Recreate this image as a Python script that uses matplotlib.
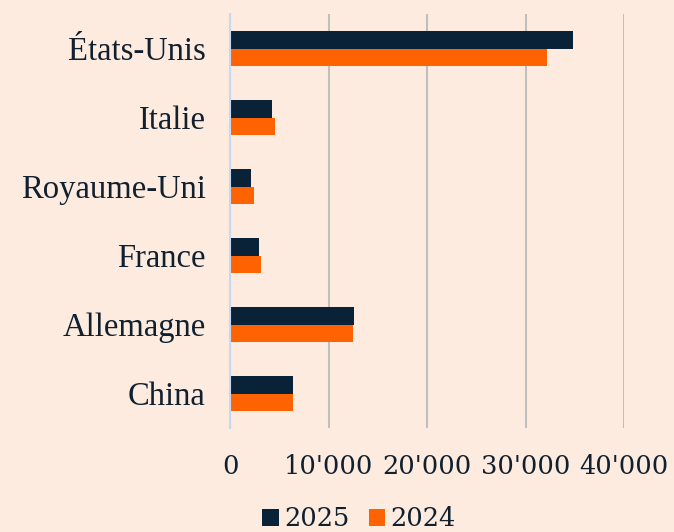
import matplotlib
matplotlib.use("Agg")
import matplotlib.pyplot as plt
import numpy as np
from matplotlib.ticker import FuncFormatter

categories = ["États-Unis", "Italie", "Royaume-Uni", "France", "Allemagne", "China"]
values_2025 = [34800, 4260, 2130, 2940, 12590, 6400]
values_2024 = [32200, 4570, 2440, 3150, 12490, 6400]
xticks = [0, 10000, 20000, 30000, 40000]

bg = "#FDEBDF"
navy = "#0A2238"
orange = "#FF6200"

fig = plt.figure(figsize=(6.74, 5.32), dpi=100, facecolor=bg)
ax = fig.add_axes([230/674, 1-428/532, (624-230)/674, (428-14)/532])
ax.set_facecolor(bg)

y = np.arange(len(categories))
h = 0.25
ax.barh(y - h/2, values_2025, height=h, color=navy, label="2025", zorder=3)
ax.barh(y + h/2, values_2024, height=h, color=orange, label="2024", zorder=3)

ax.set_ylim(len(categories) - 0.5, -0.5)
ax.set_xlim(0, 40000)
ax.set_yticks(y)
ax.set_yticklabels(categories, family="Liberation Serif", fontsize=23.5, color="#10202F")
ax.set_xticks(xticks)
ax.xaxis.set_major_formatter(FuncFormatter(lambda v, p: f"{int(v):,}".replace(",", "'")))
for lbl in ax.get_xticklabels():
    lbl.set_family("DejaVu Serif")
    lbl.set_fontsize(18.5)
    lbl.set_color("#10202F")
ax.tick_params(axis="y", length=0, pad=17.5)
ax.tick_params(axis="x", length=0, pad=19)
ax.grid(axis="x", color="#BFBFBF", linewidth=1.5, zorder=0)
for s in ["top", "right", "bottom"]:
    ax.spines[s].set_visible(False)
ax.spines["left"].set_color("#C6D9F1")
ax.spines["left"].set_linewidth(1.5)
ax.spines["left"].set_zorder(4)

leg = fig.legend(loc="center", bbox_to_anchor=(359/674, 1-519/532), ncol=2, frameon=False,
                 prop={"family": "DejaVu Serif", "size": 18.5}, handlelength=0.65, handleheight=0.65,
                 handletextpad=0.2, columnspacing=0.75, labelcolor="#10202F")

fig.savefig("out.png", dpi=100, facecolor=bg)
